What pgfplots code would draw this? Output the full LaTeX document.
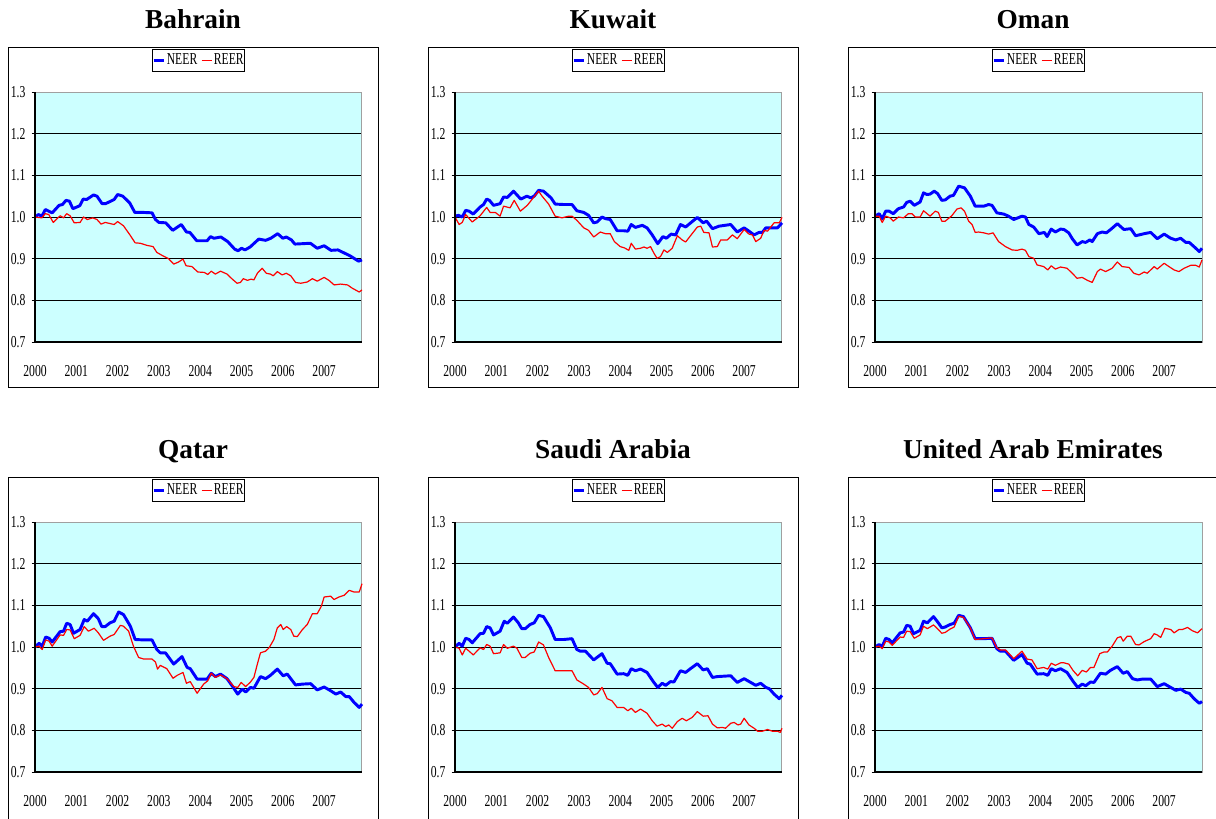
\documentclass[border=0pt]{standalone}
\usepackage{fontspec}
\setmainfont{Liberation Serif}
\newfontfamily\tickfam[FakeStretch=0.7]{Liberation Serif}
\newfontfamily\titlefam{Liberation Serif}
\usepackage{pgfplots}
\pgfplotsset{compat=1.18}
\definecolor{bgc}{HTML}{CCFFFF}
\definecolor{axgray}{HTML}{A0A0A0}
\newcommand{\tfont}{\tickfam\fontsize{12.5}{13}\selectfont}
\newcommand{\ttl}{\titlefam\bfseries\fontsize{20.5}{24}\selectfont}
\pgfplotsset{
  panel/.style={
    scale only axis, width=245.25pt, height=187.5pt,
    anchor=south west,
    xmin=0, xmax=95, ymin=0.7, ymax=1.3,
    axis background/.style={fill=bgc},
    axis line style={draw=axgray, line width=0.75pt},
    clip=false,
    xtick={0,12,24,36,48,60,72,84},
    xticklabels={2000,2001,2002,2003,2004,2005,2006,2007},
    ytick={0.8,0.9,1.0,1.1,1.2},
    yticklabels={0.8,0.9,1.0,1.1,1.2},
    extra y ticks={0.7,1.3},
    extra y tick labels={0.7,1.3},
    extra y tick style={grid=none},
    ymajorgrids,
    major grid style={black, line width=0.75pt},
    tick pos=left,
    xtick style={draw=none},
    ytick style={black, line width=0.75pt},
    tick align=outside, major tick length=2.5pt,
    ticklabel style={font=\tfont},
    yticklabel style={anchor=east, inner sep=0pt, xshift=-4.5pt},
    xticklabel style={anchor=center, inner sep=0pt, yshift=-19pt},
    legend columns=2,
    legend style={at={(0.5,1.126)}, anchor=center, font=\tfont, draw=black,
      line width=0.75pt, fill=white, inner xsep=0pt, inner ysep=2.2pt,
      nodes={inner xsep=0.8pt, inner ysep=1.5pt},
      /tikz/every even column/.append style={column sep=2pt}},
    legend image code/.code={\draw[##1] (0pt,0pt) -- (8pt,0pt);},
  },
  neer/.style={color=blue, line width=2.2pt, line join=round, no markers},
  reer/.style={color=red, line width=0.9pt, line join=round, no markers},
}
\begin{document}
\begin{tikzpicture}
\useasboundingbox (0pt,0pt) rectangle (912pt,-613.5pt);
% ---------- outer boxes and titles ----------
\draw[black, line width=0.75pt] (6pt,-35.25pt) rectangle (283.5pt,-290.25pt);
\draw[black, line width=0.75pt] (321pt,-35.25pt) rectangle (598.5pt,-290.25pt);
\draw[black, line width=0.75pt] (636pt,-35.25pt) rectangle (913.5pt,-290.25pt);
\draw[black, line width=0.75pt] (6pt,-357.75pt) rectangle (283.5pt,-615pt);
\draw[black, line width=0.75pt] (321pt,-357.75pt) rectangle (598.5pt,-615pt);
\draw[black, line width=0.75pt] (636pt,-357.75pt) rectangle (913.5pt,-615pt);
\node[font=\ttl, anchor=base] at (144.75pt,-21pt) {Bahrain};
\node[font=\ttl, anchor=base] at (459.75pt,-21pt) {Kuwait};
\node[font=\ttl, anchor=base] at (774.75pt,-21pt) {Oman};
\node[font=\ttl, anchor=base] at (144.75pt,-343.5pt) {Qatar};
\node[font=\ttl, anchor=base] at (459.75pt,-343.5pt) {Saudi Arabia};
\node[font=\ttl, anchor=base] at (774.75pt,-343.5pt) {United Arab Emirates};

% ---------- Bahrain ----------
\begin{axis}[panel, at={(26.25pt,-256.5pt)}]
\addplot[neer] coordinates {(0,1.000)(1,1.006)(2,1.002)(3,1.018)(5,1.010)(7,1.028)(8,1.030)(9,1.040)(10,1.038)(11,1.020)(13,1.027)(14,1.043)(15,1.042)(17,1.053)(18,1.050)(19.5,1.032)(20.5,1.032)(22,1.038)(23,1.042)(24,1.054)(25.5,1.050)(27.5,1.034)(29,1.011)(31.5,1.011)(34,1.010)(35,0.994)(36,0.987)(38,0.986)(40,0.968)(42.5,0.982)(44,0.964)(45,0.963)(47,0.943)(50,0.943)(51,0.953)(52,0.949)(54,0.952)(56,0.941)(58,0.923)(59,0.919)(60,0.925)(61,0.921)(62.5,0.928)(65,0.947)(67,0.944)(68.5,0.949)(70.5,0.960)(72,0.949)(73,0.952)(74.5,0.945)(75.5,0.935)(80,0.937)(82,0.925)(84,0.931)(86,0.920)(88,0.921)(90,0.913)(91.5,0.907)(94,0.894)(95,0.897)};
\addlegendentry{NEER}
\addplot[reer] coordinates {(0,1.000)(2,0.998)(3,1.008)(4,1.006)(5.3,0.987)(7.3,1.003)(8.3,0.998)(9.2,1.008)(10.2,1.003)(11.4,0.986)(13.1,0.987)(14.1,1.000)(15.2,0.994)(16.8,0.998)(18,0.994)(19.2,0.983)(20.4,0.987)(23,0.982)(24,0.989)(25.7,0.979)(27.5,0.958)(29.1,0.938)(30.6,0.937)(32.5,0.932)(34.3,0.929)(35.4,0.915)(36.9,0.908)(38.8,0.900)(40.3,0.887)(41.7,0.892)(43,0.899)(43.9,0.883)(45.6,0.881)(47.3,0.868)(49.2,0.867)(50.2,0.862)(51.2,0.870)(52.4,0.863)(53.9,0.870)(55.8,0.863)(57.3,0.851)(58.7,0.841)(59.7,0.843)(60.5,0.852)(61.7,0.848)(62.8,0.851)(63.6,0.849)(64.6,0.865)(66,0.877)(67.2,0.865)(68.4,0.863)(69.2,0.859)(70.4,0.869)(71.8,0.861)(73,0.865)(74.3,0.859)(75.7,0.843)(77.2,0.841)(79.1,0.844)(80.6,0.852)(82,0.846)(84,0.855)(85.4,0.848)(86.9,0.837)(88.8,0.839)(90.8,0.837)(92.2,0.829)(94.2,0.820)(95,0.825)};
\addlegendentry{REER}
\end{axis}

% ---------- Kuwait ----------
\begin{axis}[panel, at={(341.25pt,-256.5pt)}]
\addplot[neer] coordinates {(0,1.002)(1,1.004)(2.1,1.000)(3.1,1.016)(4.1,1.014)(5.3,1.007)(7.3,1.024)(8.3,1.030)(9.2,1.043)(10,1.040)(11.2,1.028)(13.1,1.032)(14.1,1.048)(15.2,1.047)(17,1.062)(19.1,1.043)(20.9,1.050)(22,1.046)(23,1.050)(24.3,1.064)(25.7,1.062)(27.9,1.046)(29.1,1.031)(31.6,1.030)(34,1.030)(35.4,1.015)(37.4,1.011)(38.8,1.004)(40.3,0.986)(41.3,0.988)(42.7,1.000)(43.7,0.996)(45.1,0.994)(47.1,0.967)(49,0.967)(50.2,0.966)(51.2,0.982)(52.4,0.975)(54.4,0.980)(55.8,0.974)(57.3,0.957)(58.9,0.936)(60.4,0.953)(61.4,0.949)(62.8,0.959)(64.1,0.957)(65.5,0.982)(67,0.976)(68.9,0.989)(70.4,0.999)(72.1,0.986)(73.1,0.990)(74.8,0.972)(76.7,0.978)(80.1,0.982)(82,0.964)(84,0.974)(85.4,0.966)(86.9,0.957)(88.3,0.963)(89.3,0.963)(90.3,0.974)(91.3,0.974)(93.7,0.974)(95,0.986)};
\addlegendentry{NEER}
\addplot[reer] coordinates {(0,1.000)(1.2,0.982)(2.1,0.987)(3.1,1.006)(5,0.988)(7.3,1.003)(9.2,1.023)(10.2,1.011)(11.7,1.011)(13.1,1.002)(14.1,1.026)(16,1.022)(17.2,1.040)(19,1.014)(21,1.028)(24.3,1.062)(25.3,1.050)(27.2,1.031)(29.1,1.002)(31.1,0.998)(33,1.002)(34,1.002)(35.4,0.992)(37.4,0.974)(38.8,0.968)(40.3,0.952)(42.2,0.964)(43.7,0.960)(45.1,0.960)(46.3,0.941)(48,0.929)(49.2,0.926)(50.5,0.920)(51.2,0.937)(52.4,0.923)(53.9,0.925)(54.9,0.928)(55.8,0.925)(56.8,0.929)(57.8,0.913)(58.7,0.901)(59.7,0.905)(60.7,0.921)(61.7,0.915)(63.1,0.925)(64.6,0.955)(66,0.945)(67,0.940)(70.4,0.976)(71.4,0.978)(72.3,0.963)(73.8,0.962)(74.8,0.928)(76.2,0.929)(77.2,0.945)(79.1,0.945)(80.6,0.957)(82,0.948)(84,0.970)(85.4,0.959)(86.4,0.957)(87.4,0.941)(88.8,0.949)(89.8,0.968)(90.8,0.966)(92.7,0.986)(94.2,0.986)(95,0.999)};
\addlegendentry{REER}
\end{axis}

% ---------- Oman ----------
\begin{axis}[panel, at={(656.25pt,-256.5pt)}]
\addplot[neer] coordinates {(0,1.002)(1.2,1.008)(2.1,0.996)(3.1,1.014)(4.1,1.014)(5.3,1.008)(6.8,1.020)(8.3,1.024)(9.2,1.035)(10.2,1.038)(11.4,1.028)(13.1,1.036)(14.1,1.058)(15.1,1.054)(16,1.055)(17.2,1.062)(18.2,1.056)(19.4,1.040)(20.4,1.041)(21.8,1.050)(22.8,1.052)(24.3,1.074)(26,1.070)(27.7,1.050)(29.1,1.026)(31.6,1.026)(33,1.030)(34,1.028)(35.4,1.010)(37.4,1.007)(38.8,1.002)(40.3,0.994)(42.7,1.002)(43.7,1.000)(44.7,0.982)(46.1,0.976)(47.6,0.960)(49.2,0.963)(50,0.953)(51.2,0.971)(52.4,0.964)(53.9,0.971)(54.9,0.970)(56.3,0.962)(57.3,0.948)(58.7,0.933)(60.2,0.941)(61.2,0.939)(62.4,0.945)(63.1,0.941)(64.6,0.960)(66,0.964)(67.2,0.962)(68.6,0.971)(70.4,0.984)(72.3,0.970)(74.3,0.972)(75.7,0.955)(78.2,0.960)(80.1,0.963)(82,0.948)(84,0.959)(85.9,0.949)(87.4,0.945)(88.8,0.949)(90.3,0.939)(91.3,0.939)(93.2,0.925)(94.2,0.917)(95,0.925)};
\addlegendentry{NEER}
\addplot[reer] coordinates {(0,1.002)(1.2,1.002)(2.1,0.987)(3.1,1.002)(4.4,0.998)(5.3,0.990)(6.8,1.000)(8.3,0.998)(9.7,1.008)(10.7,1.008)(11.7,1.000)(13.1,1.000)(14.1,1.015)(16,1.002)(17.5,1.014)(18.4,1.011)(19.4,0.990)(20.4,0.990)(22.3,1.003)(23.8,1.019)(25,1.022)(26,1.014)(27.2,0.990)(28.2,0.982)(29.1,0.963)(30.1,0.964)(31.6,0.962)(33,0.959)(34.3,0.962)(35.9,0.941)(37.9,0.929)(39.8,0.921)(41.3,0.920)(42.7,0.923)(43.7,0.920)(44.7,0.905)(46.1,0.901)(47.1,0.885)(49,0.881)(50.2,0.873)(51.2,0.883)(52.4,0.875)(53.9,0.880)(55.8,0.877)(57.3,0.865)(58.7,0.853)(60.2,0.855)(61.7,0.848)(63.1,0.843)(64.6,0.869)(65.5,0.875)(67,0.869)(68.9,0.877)(70.4,0.892)(71.8,0.881)(73.8,0.879)(75.2,0.865)(76.7,0.861)(78.2,0.868)(79.1,0.865)(81.1,0.881)(82,0.875)(84,0.889)(85.4,0.881)(86.9,0.873)(88.3,0.869)(89.8,0.877)(91.7,0.884)(93.2,0.884)(94.2,0.880)(95,0.897)};
\addlegendentry{REER}
\end{axis}

% ---------- Qatar ----------
\begin{axis}[panel, at={(26.25pt,-579pt)}]
\addplot[neer] coordinates {(0,1.000)(1.2,1.009)(2.1,1.002)(3.1,1.024)(4.1,1.021)(5,1.012)(7.3,1.037)(8.3,1.038)(9.2,1.057)(10.2,1.054)(11.2,1.033)(13.1,1.042)(14.3,1.066)(15.2,1.062)(17,1.080)(18.4,1.068)(19.4,1.049)(20.4,1.049)(21.8,1.058)(23,1.062)(24.3,1.084)(25.7,1.078)(27.7,1.050)(29.1,1.018)(31.6,1.017)(34,1.017)(35.4,0.994)(36.4,0.986)(37.9,0.986)(40.3,0.959)(42.7,0.977)(44.2,0.951)(45.1,0.948)(47.1,0.923)(50,0.923)(51.2,0.937)(52.4,0.929)(53.9,0.935)(55.8,0.924)(57.6,0.903)(58.9,0.887)(60.2,0.899)(61.2,0.892)(62.6,0.903)(63.6,0.901)(65.5,0.929)(67,0.924)(68.4,0.932)(70.4,0.947)(72.1,0.931)(73.3,0.935)(74.3,0.924)(75.7,0.909)(77.7,0.911)(80.1,0.912)(82,0.897)(84,0.904)(85.9,0.895)(87.4,0.887)(88.8,0.892)(90.3,0.881)(91.3,0.881)(92.7,0.867)(94.2,0.855)(95,0.863)};
\addlegendentry{NEER}
\addplot[reer] coordinates {(0,1.000)(1.2,1.002)(2.1,0.994)(3.1,1.017)(4.1,1.014)(5,1.002)(7.3,1.029)(8.3,1.028)(9.2,1.042)(10.2,1.041)(11.4,1.020)(13.1,1.028)(14.3,1.049)(15.5,1.038)(17.2,1.045)(18.4,1.034)(19.9,1.016)(21.8,1.026)(23,1.030)(24.8,1.052)(25.7,1.050)(27.2,1.038)(28.6,1.002)(30.1,0.975)(31.6,0.971)(34,0.971)(35,0.964)(35.6,0.947)(36.4,0.956)(38.3,0.948)(40.1,0.925)(41.3,0.932)(43,0.939)(44,0.913)(45.1,0.917)(47.1,0.889)(49,0.911)(50.2,0.919)(51.2,0.937)(52.4,0.927)(53.9,0.933)(55.8,0.924)(57.8,0.905)(58.9,0.903)(59.9,0.915)(61.2,0.905)(62.6,0.916)(63.6,0.927)(64.6,0.959)(65.5,0.986)(67,0.990)(68,0.998)(69.4,1.018)(70.4,1.046)(71.4,1.054)(72.1,1.042)(73.1,1.049)(74.3,1.042)(75.2,1.026)(76.2,1.025)(77.7,1.042)(79.1,1.054)(80.6,1.080)(82,1.080)(83.2,1.098)(84,1.120)(85.9,1.122)(86.9,1.114)(88.3,1.120)(89.8,1.124)(91.3,1.136)(92.7,1.132)(94.2,1.132)(95,1.152)};
\addlegendentry{REER}
\end{axis}

% ---------- Saudi Arabia ----------
\begin{axis}[panel, at={(341.25pt,-579pt)}]
\addplot[neer] coordinates {(0,1.000)(1.2,1.009)(2.1,1.002)(3.1,1.021)(4.1,1.018)(5,1.010)(7.3,1.032)(8.3,1.033)(9.2,1.049)(10.2,1.046)(11.2,1.029)(13.1,1.038)(14.3,1.062)(15.2,1.057)(17,1.072)(18.4,1.058)(19.4,1.044)(20.4,1.044)(21.8,1.054)(23,1.058)(24.3,1.076)(25.7,1.073)(27.7,1.046)(29.1,1.018)(31.6,1.018)(34,1.020)(35.4,0.994)(36.4,0.990)(37.9,0.990)(40.3,0.969)(42.7,0.984)(44.2,0.961)(45.1,0.960)(47.1,0.935)(49,0.936)(50.2,0.932)(51.2,0.948)(52.4,0.943)(53.9,0.947)(55.8,0.939)(57.6,0.917)(58.9,0.903)(60.2,0.913)(61.2,0.908)(62.6,0.917)(63.6,0.916)(65.5,0.943)(67,0.939)(68.4,0.948)(70.4,0.960)(72.1,0.945)(73.3,0.948)(74.8,0.927)(76.2,0.929)(80.1,0.931)(82,0.915)(84,0.924)(85.9,0.915)(87.4,0.908)(88.8,0.913)(90.3,0.903)(91.3,0.900)(92.7,0.887)(94.2,0.876)(95,0.884)};
\addlegendentry{NEER}
\addplot[reer] coordinates {(0,1.000)(1.2,0.997)(2.1,0.981)(3.1,0.997)(4.1,0.990)(5.3,0.981)(7.3,0.998)(8.3,0.994)(9.2,1.006)(10.2,1.002)(11.2,0.984)(13.1,0.986)(14.1,1.006)(15.2,0.997)(17,1.002)(18,0.997)(19.4,0.975)(20.4,0.975)(21.8,0.985)(23,0.988)(24.3,1.012)(25.7,1.005)(27.2,0.975)(29.1,0.943)(31.6,0.943)(34,0.943)(35.4,0.921)(37.4,0.911)(38.8,0.903)(40.3,0.885)(41.3,0.888)(42.7,0.903)(44.2,0.876)(45.6,0.871)(47.1,0.855)(49,0.855)(50.2,0.847)(51.2,0.853)(52.4,0.843)(53.9,0.851)(55.8,0.841)(57.3,0.823)(58.7,0.810)(60.2,0.815)(61.2,0.809)(62.1,0.813)(63.1,0.805)(64.6,0.821)(66,0.829)(67.2,0.823)(68.9,0.831)(70.4,0.845)(72.1,0.834)(73.5,0.835)(74.8,0.815)(76.2,0.806)(77.7,0.807)(78.6,0.805)(80.1,0.817)(81.1,0.819)(82.2,0.813)(83,0.815)(84,0.829)(85.4,0.813)(86.9,0.805)(87.9,0.798)(89.3,0.798)(90.8,0.802)(92.2,0.798)(93.7,0.798)(94.5,0.795)(95,0.805)};
\addlegendentry{REER}
\end{axis}

% ---------- United Arab Emirates ----------
\begin{axis}[panel, at={(656.25pt,-579pt)}]
\addplot[neer] coordinates {(0,1.000)(1.2,1.006)(2.1,1.001)(3.1,1.021)(4.1,1.018)(5,1.010)(7.3,1.034)(8.3,1.036)(9.2,1.052)(10.2,1.050)(11.2,1.032)(13.1,1.040)(14.1,1.062)(15.2,1.058)(17,1.073)(18.4,1.058)(19.4,1.046)(20.4,1.048)(21.8,1.054)(23,1.057)(24.3,1.076)(25.7,1.073)(27.7,1.046)(29.1,1.020)(31.6,1.020)(34,1.021)(35.4,0.996)(36.4,0.990)(37.9,0.990)(40.3,0.968)(42.7,0.982)(44.2,0.961)(45.1,0.959)(47.1,0.935)(49,0.936)(50.2,0.932)(51.2,0.948)(52.4,0.943)(53.9,0.948)(55.8,0.939)(57.6,0.917)(58.9,0.903)(60.2,0.911)(61.2,0.907)(62.6,0.916)(63.6,0.915)(65.5,0.937)(67,0.935)(68.4,0.944)(70.4,0.953)(72.1,0.937)(73.3,0.941)(74.8,0.924)(76.2,0.921)(77.7,0.923)(80.1,0.923)(82,0.905)(84,0.912)(85.9,0.903)(87.4,0.896)(88.8,0.899)(90.3,0.891)(91.3,0.889)(92.7,0.876)(94.2,0.865)(95,0.869)};
\addlegendentry{NEER}
\addplot[reer] coordinates {(0,1.000)(1.2,1.002)(2.1,0.996)(3.1,1.014)(4.1,1.012)(5,1.004)(7.3,1.024)(8.3,1.023)(9.2,1.038)(10.2,1.037)(11.4,1.021)(13.1,1.029)(14.1,1.050)(15.2,1.044)(17,1.053)(18.4,1.042)(19.4,1.033)(20.4,1.035)(21.8,1.043)(23,1.048)(24.3,1.074)(25.7,1.071)(27.7,1.046)(29.1,1.018)(31.6,1.020)(34,1.022)(35.4,0.998)(36.4,0.993)(37.9,0.993)(40.3,0.972)(42.7,0.990)(44.2,0.971)(45.6,0.969)(47.1,0.948)(49,0.951)(50.2,0.947)(51.2,0.961)(52.4,0.956)(53.9,0.962)(54.9,0.962)(56.3,0.959)(57.6,0.943)(58.9,0.931)(60.2,0.944)(61.4,0.940)(62.6,0.951)(63.6,0.951)(65.3,0.984)(66.5,0.988)(67.5,0.988)(68.9,1.002)(70.4,1.022)(71.4,1.025)(72.1,1.014)(73.3,1.026)(74.3,1.026)(75.7,1.006)(76.7,1.005)(78.2,1.013)(80.1,1.020)(81.1,1.032)(82,1.029)(83,1.023)(84.2,1.045)(85.9,1.042)(86.9,1.034)(88.3,1.042)(89.3,1.042)(90.8,1.047)(92.2,1.039)(93.7,1.034)(95,1.044)};
\addlegendentry{REER}
\end{axis}

% ---------- black left/bottom axis lines ----------
\draw[black, line width=1.5pt] (26.25pt,-69pt) -- (26.25pt,-256.5pt) -- (271.5pt,-256.5pt);
\draw[black, line width=1.5pt] (341.25pt,-69pt) -- (341.25pt,-256.5pt) -- (586.5pt,-256.5pt);
\draw[black, line width=1.5pt] (656.25pt,-69pt) -- (656.25pt,-256.5pt) -- (901.5pt,-256.5pt);
\draw[black, line width=1.5pt] (26.25pt,-391.5pt) -- (26.25pt,-579pt) -- (271.5pt,-579pt);
\draw[black, line width=1.5pt] (341.25pt,-391.5pt) -- (341.25pt,-579pt) -- (586.5pt,-579pt);
\draw[black, line width=1.5pt] (656.25pt,-391.5pt) -- (656.25pt,-579pt) -- (901.5pt,-579pt);
\end{tikzpicture}
\end{document}
